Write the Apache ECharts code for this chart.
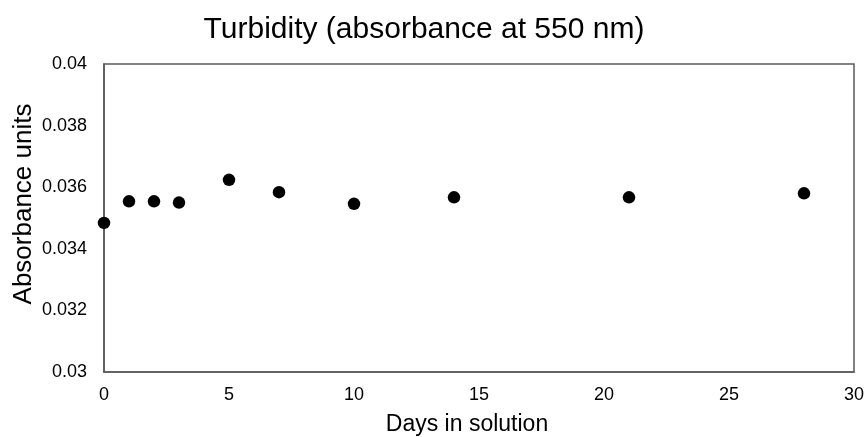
<!DOCTYPE html>
<html><head><meta charset="utf-8">
<script src="https://cdn.jsdelivr.net/npm/echarts@6/dist/echarts.min.js"></script>
<style>html,body{margin:0;padding:0;background:#fff}#c{width:865px;height:437px}</style>
</head><body><div id="c"></div>
<script>
var days = [0, 1, 2, 3, 5, 7, 10, 14, 21, 28];
var absorbance = [0.03484, 0.03554, 0.03554, 0.0355, 0.03624, 0.03584, 0.03546, 0.03567, 0.03567, 0.0358];
var xTicks = [0, 5, 10, 15, 20, 25, 30];
var yTicks = [0.03, 0.032, 0.034, 0.036, 0.038, 0.04];

var chart = echarts.init(document.getElementById('c'), null, {renderer: 'canvas'});
var font = 'Liberation Sans, Arial, sans-serif';
chart.setOption({
  animation: false,
  backgroundColor: '#fff',
  title: {text: 'Turbidity (absorbance at 550 nm)', left: 419, top: 10, textAlign: 'center',
    textStyle: {fontFamily: font, fontSize: 30, fontWeight: 'normal', color: '#000'}},
  grid: {left: 104, right: 11, top: 64, bottom: 65, show: true, borderColor: '#595959', borderWidth: 1.5,
    containLabel: false, outerBoundsMode: 'none'},
  xAxis: {type: 'value', min: xTicks[0], max: xTicks[xTicks.length-1], interval: 5,
    name: 'Days in solution', nameLocation: 'middle', nameGap: 41, nameMoveOverlap: false,
    nameTextStyle: {fontFamily: font, fontSize: 23, color: '#000', padding: [0, 24, 0, 0]},
    axisLine: {show: true, lineStyle: {color: '#595959', width: 1.5}},
    axisTick: {show: false}, splitLine: {show: false},
    axisLabel: {fontFamily: font, fontSize: 18, color: '#000', margin: 14}},
  yAxis: {type: 'value', min: yTicks[0], max: yTicks[yTicks.length-1], interval: 0.002,
    name: 'Absorbance units', nameLocation: 'middle', nameGap: 67, nameMoveOverlap: false,
    nameTextStyle: {fontFamily: font, fontSize: 26, color: '#000', padding: [0, 0, 0, 28]},
    axisLine: {show: true, lineStyle: {color: '#595959', width: 1.5}},
    axisTick: {show: false}, splitLine: {show: false},
    axisLabel: {fontFamily: font, fontSize: 18, color: '#000', margin: 17,
      formatter: function(v){ return String(+v.toFixed(3)); }}},
  series: [{type: 'scatter', symbol: 'circle', symbolSize: 12.5,
    itemStyle: {color: '#000', opacity: 1},
    data: days.map(function(d, i){ return [d, absorbance[i]]; })}]
});
</script></body></html>
